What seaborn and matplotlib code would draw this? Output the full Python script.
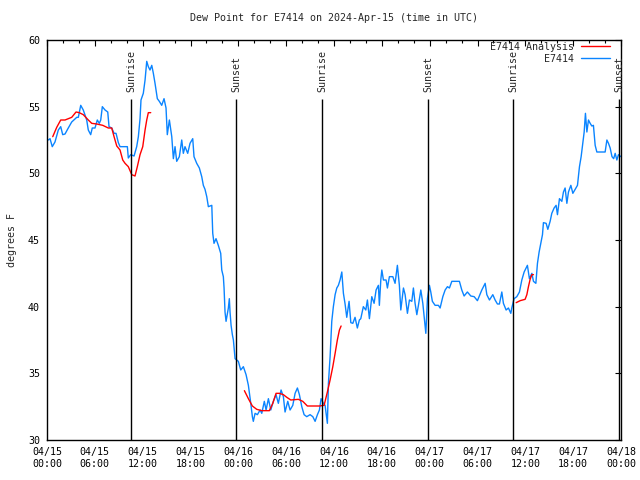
import pandas as pd
import numpy as np
import matplotlib
matplotlib.use("Agg")
import matplotlib.pyplot as plt
import matplotlib.dates as mdates
from matplotlib.lines import Line2D
import seaborn as sns

# observations: hours since 2024-04-15 00:00 UTC, dew point in F
obs_hours = [0.16, 0.38, 0.66, 1.0, 1.42, 1.72, 1.97, 2.26, 2.67, 3.1, 3.73, 3.93, 4.23, 4.55,
             4.98, 5.18, 5.48, 5.68, 6.02, 6.31, 6.56, 6.74, 6.94, 7.28, 7.62, 7.78, 8.12, 8.41,
             8.66, 8.95, 9.16, 9.79, 10.08, 10.2, 10.5, 10.92, 11.25, 11.46, 11.67, 11.79, 12.08,
             12.3, 12.51, 12.71, 12.92, 13.14, 13.34, 13.55, 13.84, 14.09, 14.39, 14.68, 14.93,
             15.09, 15.35, 15.65, 15.85, 16.06, 16.27, 16.6, 16.9, 17.1, 17.31, 17.65, 17.94,
             18.28, 18.44, 18.78, 19.11, 19.41, 19.61, 19.82, 20.04, 20.24, 20.67, 20.79, 20.95,
             21.2, 21.49, 21.79, 21.92, 22.12, 22.21, 22.33, 22.46, 22.75, 22.87, 22.96, 23.09,
             23.25, 23.38, 23.59, 24.0, 24.3, 24.63, 24.97, 25.26, 25.56, 25.76, 25.88, 26.1,
             26.39, 26.73, 26.94, 27.26, 27.48, 27.77, 28.07, 28.39, 28.73, 29.02, 29.36, 29.65,
             29.86, 30.2, 30.49, 30.83, 31.12, 31.41, 31.66, 31.96, 32.25, 32.58, 33.0, 33.34,
             33.63, 33.92, 34.17, 34.38, 34.67, 34.88, 35.17, 35.3, 35.51, 35.72, 35.92, 36.14,
             36.35, 36.55, 36.76, 36.98, 37.18, 37.39, 37.6, 37.89, 38.11, 38.36, 38.64, 38.93,
             39.18, 39.36, 39.68, 39.99, 40.19, 40.44, 40.74, 41.03, 41.28, 41.57, 41.69, 41.87,
             42.0, 42.2, 42.53, 42.7, 42.95, 43.38, 43.66, 43.95, 44.2, 44.38, 44.71, 44.92,
             45.21, 45.46, 45.76, 45.96, 46.17, 46.39, 46.59, 46.89, 47.14, 47.43, 47.52, 47.72,
             47.97, 48.14, 48.34, 48.68, 49.1, 49.31, 49.65, 49.94, 50.23, 50.48, 50.78, 51.73,
             52.03, 52.32, 52.73, 53.16, 53.58, 53.99, 54.54, 54.96, 55.17, 55.5, 55.92, 56.21,
             56.5, 56.75, 57.05, 57.25, 57.59, 57.88, 58.18, 58.3, 58.59, 58.93, 59.26, 59.56,
             59.85, 60.26, 60.51, 60.82, 61.02, 61.32, 61.52, 61.73, 61.94, 62.15, 62.27, 62.61,
             62.82, 63.11, 63.32, 63.61, 63.86, 64.03, 64.28, 64.58, 64.78, 64.99, 65.21, 65.41,
             65.71, 65.96, 66.25, 66.54, 66.79, 67.0, 67.21, 67.38, 67.54, 67.72, 67.92, 68.13,
             68.34, 68.54, 68.76, 68.97, 70.01, 70.23, 70.43, 70.64, 70.87, 71.08, 71.27, 71.48,
             71.68, 71.98]
obs_dewpt = [52.5, 52.6, 52.0, 52.35, 53.25, 53.5, 52.9, 52.95, 53.4, 53.85, 54.2, 54.2, 55.1, 54.75,
             54.0, 53.25, 52.9, 53.4, 53.4, 54.0, 53.75, 54.0, 55.0, 54.75, 54.6, 53.5, 53.4, 53.0,
             53.0, 52.3, 52.0, 52.0, 52.0, 51.15, 51.4, 51.3, 52.0, 52.75, 54.1, 55.5, 56.0,
             57.0, 58.4, 58.0, 57.75, 58.1, 57.5, 56.75, 55.6, 55.4, 55.1, 55.6, 54.9,
             52.9, 54.0, 52.75, 51.1, 52.0, 50.9, 51.25, 52.5, 51.5, 52.0, 51.5, 52.25,
             52.6, 51.25, 50.75, 50.4, 49.75, 49.1, 48.8, 48.25, 47.5, 47.6, 45.5, 44.75,
             45.1, 44.6, 44.0, 42.75, 42.25, 41.4, 39.6, 38.9, 39.9, 40.6, 39.6, 38.6,
             37.9, 37.5, 36.1, 35.9, 35.25, 35.5, 34.9, 34.1, 32.75, 31.75, 31.4, 32.0,
             31.9, 32.25, 32.0, 32.9, 32.25, 33.1, 32.25, 32.9, 33.4, 32.75, 33.75, 33.25,
             32.1, 32.9, 32.25, 32.6, 33.5, 33.9, 33.4, 32.5, 31.9, 31.75, 31.9, 31.75,
             31.4, 31.9, 32.25, 33.1, 32.75, 32.6, 31.25, 34.25, 36.25, 38.9, 40.0, 40.9,
             41.4, 41.6, 42.0, 42.6, 41.0, 40.2, 39.2, 40.4, 38.8, 38.75, 39.2, 38.4,
             39.0, 39.1, 40.0, 39.75, 40.5, 39.1, 40.75, 40.25, 41.25, 41.6, 40.1, 42.0,
             42.75, 42.0, 42.0, 41.4, 42.25, 42.25, 41.75, 43.1, 41.6, 39.75, 41.4, 40.9,
             39.5, 40.5, 40.4, 41.4, 40.25, 39.4, 40.1, 41.25, 40.25, 38.5, 38.0, 40.6,
             41.6, 41.1, 40.4, 40.1, 40.1, 39.9, 40.75, 41.25, 41.5, 41.4, 41.9, 41.9,
             41.25, 40.8, 41.1, 40.8, 40.75, 40.45, 41.25, 41.75, 40.9, 40.5, 40.9, 40.5,
             40.2, 40.2, 41.1, 40.25, 39.75, 39.9, 39.5, 39.9, 40.6, 40.75, 41.1, 42.0,
             42.6, 43.1, 42.1, 42.5, 41.9, 41.75, 43.25, 44.1, 44.75, 45.4, 46.3, 46.25,
             45.8, 46.4, 47.0, 47.4, 47.6, 46.9, 48.1, 47.9, 48.6, 48.9, 47.75, 48.6,
             49.1, 48.5, 48.8, 49.1, 50.5, 51.25, 52.25, 53.1, 54.5, 53.1, 54.0, 53.75,
             53.55, 53.6, 52.1, 51.6, 51.6, 52.5, 52.25, 51.9, 51.25, 51.1, 51.5, 51.0,
             51.4, 51.25]

# analysis, three separate pieces
ana_hours = [0.72, 1.22, 1.72, 2.26, 3.1, 3.64, 4.05, 4.55, 5.18, 5.61, 6.24, 6.99, 7.69, 8.12,
             8.41, 8.75, 9.16, 9.5, 9.79, 10.2, 10.63, 11.04, 11.33, 11.67, 12.01, 12.3, 12.51,
             12.71, 13.01,
             24.76, 25.26, 25.76, 26.31, 26.94, 27.89, 28.32, 28.73, 29.15, 29.65, 30.08, 30.58,
             31.53, 32.08, 32.66, 34.17, 34.76, 35.17, 35.51, 35.85, 36.14, 36.42, 36.68, 36.89,
             58.85, 59.35, 59.97, 60.19, 60.39, 60.6, 60.82, 61.02]
ana_dewpt = [52.75, 53.45, 54.0, 54.0, 54.2, 54.6, 54.55, 54.4, 54.0, 53.75, 53.7, 53.6, 53.4, 53.4,
             52.75, 52.05, 51.75, 51.0, 50.75, 50.5, 49.9, 49.8, 50.5, 51.4, 52.0, 53.25, 54.0,
             54.55, 54.55,
             33.7, 33.1, 32.55, 32.3, 32.2, 32.2, 32.75, 33.5, 33.5, 33.4, 33.2, 33.0,
             33.05, 32.9, 32.55, 32.55, 32.6, 33.6, 34.5, 35.5, 36.5, 37.5, 38.25, 38.55,
             40.3, 40.45, 40.55, 40.9, 41.5, 42.05, 42.4, 42.4]
ana_piece = [1] * 29 + [2] * 24 + [3] * 8

sun_hours = [10.54, 23.71, 34.55, 47.8, 58.5, 71.8]
sun_labels = ["Sunrise", "Sunset", "Sunrise", "Sunset", "Sunrise", "Sunset"]

start = pd.Timestamp("2024-04-15 00:00")
obs = pd.DataFrame({"time": start + pd.to_timedelta(obs_hours, unit="h"), "dewpt": obs_dewpt})
ana = pd.DataFrame({"time": start + pd.to_timedelta(ana_hours, unit="h"), "dewpt": ana_dewpt,
                    "piece": ana_piece})

sns.set_style("white")
plt.rcParams["font.family"] = ["DejaVu Sans Mono"]
plt.rcParams["font.size"] = 7.2

blue = "#0a84ff"
red = "#ff0000"

fig = plt.figure(figsize=(6.4, 4.8), dpi=100)
ax = fig.add_axes([47 / 640, 40 / 480, 574 / 640, 400 / 480])

sns.lineplot(data=obs, x="time", y="dewpt", color=blue, lw=1.0, ax=ax)
sns.lineplot(data=ana, x="time", y="dewpt", units="piece", estimator=None, color=red, lw=1.0, ax=ax)

for h, lab in zip(sun_hours, sun_labels):
    t = start + pd.Timedelta(hours=h)
    ax.vlines(t, 30, 55.6, color="black", lw=1.0)
    ax.text(t, 56.1, lab, rotation=90, ha="center", va="bottom", fontsize=7.2)

ax.set_xlim(start, start + pd.Timedelta(hours=72))
ax.set_ylim(30, 60)
ax.set_yticks(np.arange(30, 61, 5))
ax.xaxis.set_major_locator(mdates.HourLocator(byhour=[0, 6, 12, 18]))
ax.xaxis.set_minor_locator(mdates.HourLocator(interval=2))
ax.xaxis.set_major_formatter(mdates.DateFormatter("%m/%d\n%H:%M"))
ax.tick_params(which="both", direction="in", top=True, right=True, colors="black", labelsize=7.2)
ax.tick_params(which="major", length=4, width=0.8, pad=5)
ax.tick_params(which="minor", length=2, width=0.8)
for lbl in ax.get_xticklabels():
    lbl.set_linespacing(1.3)
for s in ax.spines.values():
    s.set_color("black")
    s.set_linewidth(1.0)

ax.set_xlabel("")
ax.set_ylabel("degrees F", fontsize=7.2, labelpad=8)
ax.set_title("Dew Point for E7414 on 2024-Apr-15 (time in UTC)", fontsize=7.2, pad=14)

handles = [Line2D([], [], color=red, lw=1.0), Line2D([], [], color=blue, lw=1.0)]
ax.legend(handles, ["E7414 Analysis", "E7414"], loc="upper right", frameon=False,
          markerfirst=False, bbox_to_anchor=(0.981, 0.995), borderpad=0, borderaxespad=0,
          handlelength=2.9, handletextpad=0.7, labelspacing=0.2, fontsize=7.2)

fig.savefig("out.png", dpi=100)
